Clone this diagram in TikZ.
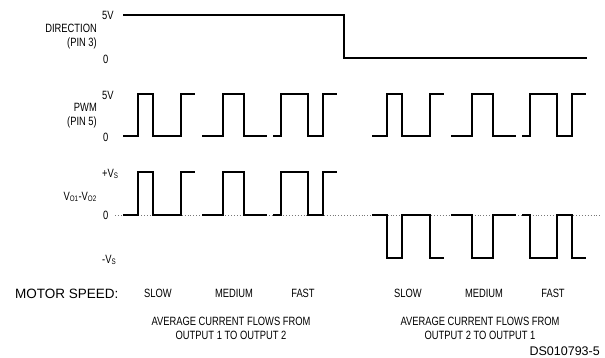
\documentclass[tikz,border=0pt]{standalone}
\usepackage{fontspec}
\setmainfont{Liberation Sans}[FakeStretch=0.78]
\newfontfamily\plainsans{Liberation Sans}
\definecolor{zeroGray}{RGB}{120,120,120}

\tikzset{
  wave/.style={line width=2.6pt},
  lbl/.style={inner sep=0pt, font=\fontsize{12}{14}\selectfont},
  speed/.style={lbl, anchor=base},
}

\begin{document}
\begin{tikzpicture}[x=1pt,y=-1pt]
        \useasboundingbox (0,0) rectangle (605,358);
        % zero line of the output
        \draw[zeroGray, dotted, line width=0.9pt] (115,215) -- (600,215);
        % direction input
        \draw[wave] (123,15) -- (344,15) -- (344,58) -- (587,58);
        % pwm input and output voltage, both halves
        \foreach \o/\lo/\hi in {0/136/94, 249/136/94, 0/215/172, 249/215/258} {
          \draw[wave] (123+\o,\lo) -| (138+\o,\hi) -| (153+\o,\lo) -| (181+\o,\hi) -- (195+\o,\hi);
          \draw[wave] (202+\o,\lo) -| (223+\o,\hi) -| (244+\o,\lo) -- (267+\o,\lo);
          \draw[wave] (273+\o,\lo) -| (281+\o,\hi) -| (308+\o,\lo) -| (323+\o,\hi) -- (337+\o,\hi);
        }
        % level labels
        \node[lbl, anchor=west] (dirHi) at (102,15) {5V};
        \node[lbl, anchor=west] (dirLo) at (103,59) {0};
        \node[lbl, anchor=west] (pwmHi) at (102,95) {5V};
        \node[lbl, anchor=west] (pwmLo) at (103,137) {0};
        \node[lbl, anchor=west] (outHi) at (102,174) {+V\textsubscript{S}};
        \node[lbl, anchor=west] (outZero) at (103,215) {0};
        \node[lbl, anchor=west] (outLo) at (102,260) {-V\textsubscript{S}};
        % signal names
        \node[lbl, anchor=east, align=right] (dirName) at (97,37) {DIRECTION\\(PIN 3)};
        \node[lbl, anchor=east, align=right] (pwmName) at (97,116) {PWM\\(PIN 5)};
        \node[lbl, anchor=east] (outName) at (97,197) {V\textsubscript{O1}-V\textsubscript{O2}};
        % speeds
        \node[inner sep=0pt, anchor=base west, font=\plainsans\fontsize{13.5}{16}\selectfont] (motor) at (15,298) {MOTOR SPEED:};
        \node[speed] (slowA) at (158,297) {SLOW};
        \node[speed] (mediumA) at (234,297) {MEDIUM};
        \node[speed] (fastA) at (303,297) {FAST};
        \node[speed] (slowB) at (408,297) {SLOW};
        \node[speed] (mediumB) at (484,297) {MEDIUM};
        \node[speed] (fastB) at (553,297) {FAST};
        % current direction
        \node[lbl, align=center] (flowA) at (231,328) {AVERAGE CURRENT FLOWS FROM\\OUTPUT 1 TO OUTPUT 2};
        \node[lbl, align=center] (flowB) at (480,328) {AVERAGE CURRENT FLOWS FROM\\OUTPUT 2 TO OUTPUT 1};
        \node[inner sep=0pt, anchor=east, font=\plainsans\fontsize{12.5}{15}\selectfont] (dsNum) at (600,351) {DS010793-5};
      \end{tikzpicture}
\end{document}
